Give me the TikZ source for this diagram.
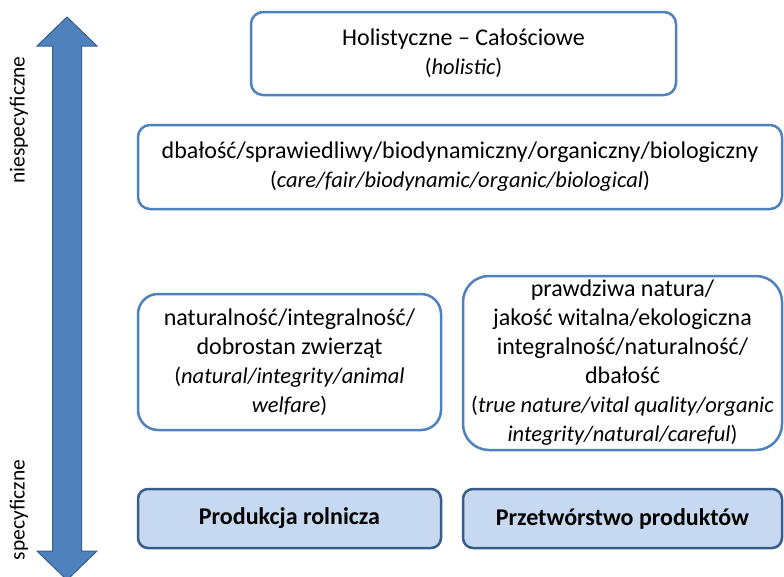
\documentclass[tikz,border=0pt]{standalone}
\usepackage{fontspec}
\setmainfont{Carlito}

\definecolor{lineblue}{RGB}{79,129,189}
\definecolor{darkblue}{RGB}{56,93,138}
\definecolor{paleblue}{RGB}{198,217,241}

\tikzset{
  level/.style={draw=lineblue, line width=2.5pt, rounded corners=12pt,
    fill=white, align=center, inner sep=0pt,
    font=\fontsize{24}{29}\selectfont},
  basebox/.style={draw=darkblue, line width=2.5pt, rounded corners=10pt,
    fill=paleblue, inner sep=0pt, font=\fontsize{24}{28}\selectfont\bfseries},
  sidelabel/.style={rotate=90, inner sep=0pt, font=\fontsize{21.5}{25}\selectfont}
}

\begin{document}
\begin{tikzpicture}[x=1pt, y=-1pt]

\newcommand\enfont{\fontsize{22.5}{25}\selectfont}

\useasboundingbox (0,0) rectangle (784,576); %% page

%% axis arrow
\filldraw[fill=lineblue, draw=darkblue, line width=1pt]
(67,17) -- (97,46) -- (81.5,46) -- (81.5,551) -- (97,551)
-- (67,580) -- (37,551) -- (52.5,551) -- (52.5,46) -- (37,46) -- cycle;

\node[sidelabel] (nonspec) at (19,120) {niespecyficzne};
\node[sidelabel] (spec) at (19,510) {specyficzne};

%% levels
\node[level, minimum width=425pt, minimum height=83pt] (holistic) at (463.5,53.5)
{Holistyczne -- Całościowe\\{\enfont(\textit{holistic})}};

\node[level, minimum width=644pt, minimum height=84pt] (care) at (460,167)
{dbałość/sprawiedliwy/biodynamiczny/organiczny/biologiczny\\
{\enfont(\textit{care/fair/biodynamic/organic/biological})}};

\node[level, rounded corners=20pt, minimum width=303pt, minimum height=136pt]
(natural) at (289.5,362)
{naturalność/integralność/\\dobrostan zwierząt\\
{\enfont(\textit{natural/integrity/animal}}\\{\enfont\textit{welfare})}};

\node[level, rounded corners=26pt, minimum width=319pt, minimum height=174pt]
(truenat) at (622.5,363)
{prawdziwa natura/\\jakość witalna/ekologiczna\\integralność/naturalność/\\dbałość\\
{\enfont(\textit{true nature/vital quality/organic}}\\
{\enfont\textit{integrity/natural/careful})}};

%% production stages
\node[basebox, minimum width=303pt, minimum height=59pt] (farm) at (289.5,518.5)
{Produkcja rolnicza};
\node[basebox, minimum width=319pt, minimum height=59pt] (processing) at (622.5,518.5)
{Przetwórstwo produktów};

\end{tikzpicture}
\end{document}
